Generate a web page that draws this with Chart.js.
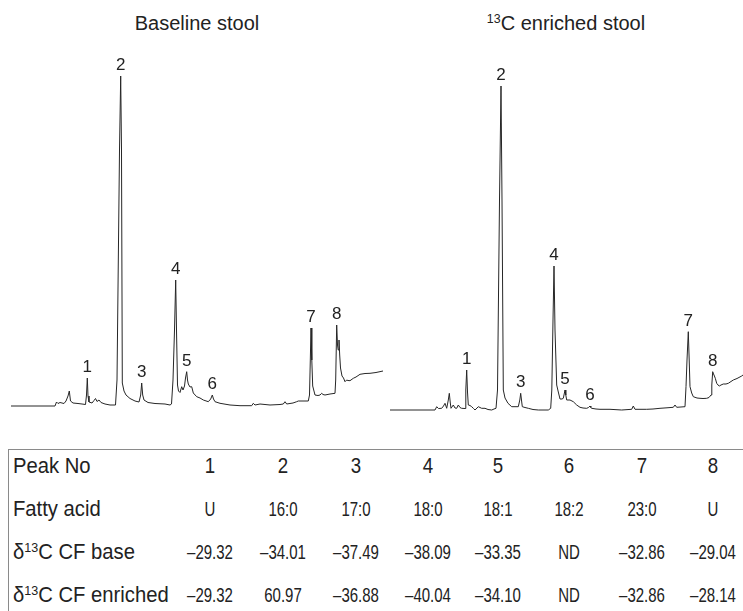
<!DOCTYPE html>
<html>
<head>
<meta charset="utf-8">
<title>Chromatograms</title>
<script src="https://cdn.jsdelivr.net/npm/chart.js@4.4.1/dist/chart.umd.min.js"></script>
<style>
  html, body { margin: 0; padding: 0; background: #fff; overflow: hidden; }
  body { width: 743px; height: 611px; position: relative; font-family: "Liberation Sans", Arial, sans-serif; color: #222; }
  .title { position: absolute; top: 13px; font-size: 20px; line-height: 1; white-space: nowrap; transform: translateX(-50%); }
  .title sup, .cell sup { font-size: 62%; vertical-align: 0.55em; line-height: 0; }
  canvas { position: absolute; }
  #tableBox { position: absolute; left: 8px; top: 449px; width: 740px; height: 170px; border-top: 1.5px solid #8a8a8a; border-left: 1.5px solid #8a8a8a; }
  .cell { position: absolute; white-space: nowrap; line-height: 1; font-size: 20px; transform: translate(-50%, -50%) scaleX(0.75); }
  .cell.big { font-size: 22px; transform: translate(-50%, -50%) scaleX(0.85); }
  .cell.label { font-size: 22px; transform-origin: left center; transform: translate(0, -50%) scaleX(0.92); }
</style>
</head>
<body>
<div class="title" style="left:197px">Baseline stool</div>
<div class="title" style="left:566px"><sup>13</sup>C enriched stool</div>
<canvas id="baseChart" width="372" height="360" style="left:11px; top:55px"></canvas>
<canvas id="enrichedChart" width="353" height="360" style="left:390px; top:55px"></canvas>
<div id="tableBox"></div>
<div id="cells"></div>

<script>
// 크로마토그램 데이터: 체류시간(min) / 신호
const baseTime = [0.00, 4.40, 4.55, 4.70, 4.90, 5.10, 5.30, 5.50, 5.70, 5.83, 5.95, 6.20, 6.70, 7.10, 7.45, 7.55, 7.63, 7.70, 7.80, 8.10,
  8.30, 8.45, 8.60, 8.80, 9.00, 9.40, 9.90, 10.45, 10.60, 10.85, 10.97, 11.05, 11.13, 11.30, 11.50, 11.90, 12.40, 12.80, 12.97, 13.07,
  13.17, 13.30, 13.70, 14.40, 15.40, 15.90, 16.05, 16.20, 16.35, 16.47, 16.55, 16.65, 16.75, 16.90, 17.07, 17.20, 17.35, 17.45, 17.57, 17.65,
  17.73, 17.90, 18.07, 18.23, 18.57, 18.90, 19.23, 19.73, 19.97, 20.13, 20.25, 20.40, 20.90, 21.90, 22.90, 24.07, 24.23, 24.40, 24.90, 25.90,
  26.90, 27.23, 27.40, 27.57, 28.20, 28.57, 28.73, 29.40, 29.73, 29.85, 29.93, 30.00, 30.08, 30.17, 30.40, 30.70, 30.90, 31.07, 31.20, 31.40,
  31.90, 32.40, 32.47, 32.57, 32.65, 32.72, 32.80, 32.87, 32.95, 33.10, 33.25, 33.40, 33.57, 33.70, 33.90, 34.23, 34.50, 34.90, 35.40, 35.90,
  36.50, 37.20];
const baseSignal = [4, 4, 8, 6.5, 7.5, 7, 6.5, 9, 14, 19, 9, 7, 6.5, 6, 5.5, 15, 32, 14, 8, 7,
  9.5, 11.5, 8.5, 10, 7.5, 6, 5, 5, 30, 260, 334, 260, 27, 19, 15, 11.5, 9, 8, 15, 27,
  15, 10, 7.5, 6.5, 6, 5, 6, 30, 80, 130, 80, 25, 19, 17.5, 23.3, 20, 24, 32, 38.3, 30,
  26, 23, 23.3, 17, 13.3, 12, 10, 8.3, 11, 15, 11, 8.3, 6.7, 5, 4.3, 4.3, 6.7, 5, 6, 5,
  5.5, 6, 8.3, 6, 7, 8.3, 9, 9, 9, 15, 50, 82, 50, 24, 15, 14.5, 15, 16.7, 15.5, 15,
  16, 16.7, 30, 85, 65, 60, 70, 55, 42, 34, 32, 28.3, 30, 29.5, 29.3, 31.7, 33, 35.7, 36.5, 36.7,
  37.5, 39];

const enrTime = [0.00, 4.50, 4.67, 4.85, 5.17, 5.35, 5.50, 5.67, 5.83, 5.93, 6.03, 6.10, 6.33, 6.50, 6.67, 6.83, 7.00, 7.17, 7.50, 7.58,
  7.67, 7.75, 7.83, 8.00, 8.17, 8.35, 8.50, 8.70, 8.83, 9.00, 9.17, 9.50, 9.80, 10.17, 10.40, 10.60, 10.75, 10.95, 11.10, 11.20,
  11.33, 11.50, 11.80, 12.17, 12.50, 12.83, 12.98, 13.07, 13.16, 13.23, 13.50, 13.83, 14.30, 14.83, 15.30, 15.83, 16.07, 16.18, 16.30, 16.40,
  16.50, 16.67, 16.83, 17.00, 17.20, 17.33, 17.42, 17.50, 17.58, 17.67, 18.00, 18.33, 18.67, 19.00, 19.30, 19.67, 19.85, 20.00, 20.08, 20.17,
  20.60, 21.00, 22.00, 23.17, 24.17, 24.33, 24.50, 25.67, 26.30, 27.00, 27.70, 28.33, 28.50, 28.67, 29.50, 29.60, 29.70, 29.83, 29.92, 30.00,
  30.17, 30.33, 30.70, 31.00, 31.30, 31.67, 31.90, 32.10, 32.18, 32.27, 32.35, 32.40, 32.53, 32.67, 32.80, 32.93, 33.10, 33.33, 33.60, 33.83,
  34.10, 34.33, 34.70, 35.17, 35.30];
const enrSignal = [0, 0, 3.3, 1.5, 1.7, 4, 6.7, 1.7, 10, 16.7, 7, 1.7, 5, 2, 1.7, 5, 2.5, 1.7, 1.5, 20,
  40, 18, 5, 4.5, 3.3, 1.5, 0, 2, 3.3, 2.5, 1.7, 1.7, 0.5, 0, 1, 1.7, 20, 210, 324, 210,
  20, 12, 6.7, 3.3, 3.3, 3.3, 10, 16.7, 9, 3.3, 2.5, 1.7, 0.5, 0, 0, 0, 1.7, 20, 90, 144,
  80, 25, 18, 11, 11, 11.7, 16, 20, 15, 10, 10, 8.3, 5, 2.7, 2, 1.7, 2.5, 4, 2.5, 1.7,
  1, 0.7, 0.7, 0, 0.7, 4, 0.7, 0.7, 1, 1.7, 2.2, 2.7, 5, 2.7, 3.3, 23.3, 50, 78.3, 50, 23.3,
  17, 13.3, 12, 11.7, 11.5, 11.7, 12.5, 15, 25, 38.3, 36, 35, 31.7, 26.7, 25, 24, 25, 26, 26, 26.7,
  28.5, 30, 31.5, 34, 35];

// 피크 번호와 위치
const peakNumbers = ['1', '2', '3', '4', '5', '6', '7', '8'];
const basePeakTimes = [7.63, 10.97, 13.07, 16.47, 17.57, 20.13, 30.00, 32.57];
const enrPeakTimes = [7.67, 11.10, 13.07, 16.40, 17.50, 20.00, 29.83, 32.27];

// 표 데이터
const rowLabels = ['Peak No', 'Fatty acid', 'δ13C CF base', 'δ13C CF enriched'];
const fattyAcids = ['U', '16:0', '17:0', '18:0', '18:1', '18:2', '23:0', 'U'];
const cfBase = ['–29.32', '–34.01', '–37.49', '–38.09', '–33.35', 'ND', '–32.86', '–29.04'];
const cfEnriched = ['–29.32', '60.97', '–36.88', '–40.04', '–34.10', 'ND', '–32.86', '–28.14'];

const colX = [210, 283, 356, 428, 498, 569, 642, 713];
const rowY = [466, 509, 552, 595];

// 피크 번호 표시 플러그인
const peakLabelPlugin = {
    id: 'peakLabels',
    afterDatasetsDraw(chart, args, opts) {
        const ctx = chart.ctx;
        const data = chart.data.datasets[0].data;
        const xs = chart.scales.x;
        const ys = chart.scales.y;
        ctx.save();
        ctx.font = '17px "Liberation Sans", Arial, sans-serif';
        ctx.fillStyle = '#222';
        ctx.textAlign = 'center';
        ctx.textBaseline = 'bottom';
        opts.times.forEach(function(t, i) {
            let top = null;
            data.forEach(function(p) {
                if (Math.abs(p.x - t) < 0.3 && (top === null || p.y > top.y)) top = p;
            });
            if (top) {
                ctx.fillText(peakNumbers[i], xs.getPixelForValue(top.x), ys.getPixelForValue(top.y) - 2);
            }
        });
        ctx.restore();
    }
};

function createChromatogram(id, times, signal, peakTimes, maxTime) {
    const ctx = document.getElementById(id).getContext('2d');
    new Chart(ctx, {
        type: 'line',
        data: {
            datasets: [{
                data: times.map(function(t, i) { return { x: t, y: signal[i] }; }),
                borderColor: '#262626',
                borderWidth: 1,
                pointRadius: 0,
                tension: 0,
                fill: false
            }]
        },
        options: {
            responsive: false,
            animation: false,
            events: [],
            layout: { padding: 0 },
            scales: {
                x: { type: 'linear', min: 0, max: maxTime, display: false },
                y: { min: -5, max: 355, display: false }
            },
            plugins: {
                legend: { display: false },
                tooltip: { enabled: false },
                peakLabels: { times: peakTimes }
            }
        },
        plugins: [peakLabelPlugin]
    });
}

// 표 생성
function buildTable() {
    const box = document.getElementById('cells');
    const rows = [peakNumbers, fattyAcids, cfBase, cfEnriched];
    let html = '';
    rowLabels.forEach(function(label, r) {
        const text = label.replace('13C', '<sup>13</sup>C');
        html += '<div class="cell label" style="left:13px; top:' + rowY[r] + 'px">' + text + '</div>';
        rows[r].forEach(function(v, c) {
            const cls = r === 0 ? 'cell big' : 'cell';
            html += '<div class="' + cls + '" style="left:' + colX[c] + 'px; top:' + rowY[r] + 'px">' + v + '</div>';
        });
    });
    box.innerHTML = html;
}

document.addEventListener('DOMContentLoaded', function() {
    createChromatogram('baseChart', baseTime, baseSignal, basePeakTimes, 37.2);
    createChromatogram('enrichedChart', enrTime, enrSignal, enrPeakTimes, 35.3);
    buildTable();
});
</script>
</body>
</html>
